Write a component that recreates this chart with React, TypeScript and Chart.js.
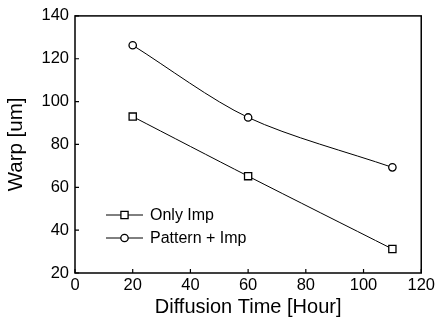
import React, { useEffect, useRef } from "react";
import { Chart, registerables } from "chart.js";

Chart.register(...registerables);

const hours = [20, 60, 110];
const onlyImp = [93, 65.2, 31.2];
const patternImp = [126.3, 92.6, 69.3];
const seriesNames = ["Only Imp", "Pattern + Imp"];
const xTicks = [0, 20, 40, 60, 80, 100, 120];
const yTicks = [20, 40, 60, 80, 100, 120, 140];
const xTitle = "Diffusion Time [Hour]";
const yTitle = "Warp [um]";

const FONT = "'Liberation Sans', Arial, sans-serif";

const framePlugin = {
  id: "frameTicks",
  afterDraw(chart: any) {
    const { ctx, chartArea, scales } = chart;
    const { left, right, top, bottom } = chartArea;
    ctx.save();
    ctx.strokeStyle = "#000";
    ctx.lineWidth = 1.5;
    ctx.strokeRect(left, top, right - left, bottom - top);
    ctx.lineWidth = 1.2;
    ctx.beginPath();
    xTicks.forEach((v) => {
      const px = scales.x.getPixelForValue(v);
      ctx.moveTo(px, bottom);
      ctx.lineTo(px, bottom - 4);
    });
    yTicks.forEach((v) => {
      const py = scales.y.getPixelForValue(v);
      ctx.moveTo(left, py);
      ctx.lineTo(left + 4, py);
    });
    ctx.stroke();

    // legend
    const lx = left + 31;
    const rows = [
      { y: bottom - 58, style: "rect", name: seriesNames[0] },
      { y: bottom - 35, style: "circle", name: seriesNames[1] },
    ];
    rows.forEach((r) => {
      ctx.lineWidth = 1;
      ctx.strokeStyle = "#000";
      ctx.beginPath();
      ctx.moveTo(lx, r.y);
      ctx.lineTo(lx + 37, r.y);
      ctx.stroke();
      ctx.fillStyle = "#fff";
      ctx.lineWidth = 1.3;
      const cx = lx + 18.5;
      if (r.style === "rect") {
        ctx.beginPath();
        ctx.rect(cx - 3.6, r.y - 3.6, 7.2, 7.2);
        ctx.fill();
        ctx.stroke();
      } else {
        ctx.beginPath();
        ctx.arc(cx, r.y, 3.7, 0, Math.PI * 2);
        ctx.fill();
        ctx.stroke();
      }
      ctx.fillStyle = "#000";
      ctx.font = `16px ${FONT}`;
      ctx.textAlign = "left";
      ctx.textBaseline = "middle";
      ctx.fillText(r.name, lx + 44, r.y + 1);
    });
    ctx.restore();
  },
};

export default function App() {
  const ref = useRef<HTMLCanvasElement | null>(null);
  useEffect(() => {
    document.body.style.margin = "0";
    const canvas = ref.current!;
    const chart = new Chart(canvas, {
      type: "scatter",
      data: {
        datasets: [
          {
            label: seriesNames[0],
            data: hours.map((h, i) => ({ x: h, y: onlyImp[i] })),
            showLine: true,
            borderColor: "#000",
            borderWidth: 1,
            tension: 0.3,
            pointStyle: "rect",
            pointRadius: 5.1,
            pointBorderWidth: 1.3,
            pointBackgroundColor: "#fff",
            pointBorderColor: "#000",
          },
          {
            label: seriesNames[1],
            data: hours.map((h, i) => ({ x: h, y: patternImp[i] })),
            showLine: true,
            borderColor: "#000",
            borderWidth: 1,
            tension: 0.3,
            pointStyle: "circle",
            pointRadius: 3.7,
            pointBorderWidth: 1.3,
            pointBackgroundColor: "#fff",
            pointBorderColor: "#000",
          },
        ],
      },
      options: {
        animation: false,
        responsive: false,
        maintainAspectRatio: false,
        layout: { padding: { top: 15, right: 16, left: 0, bottom: 0 } },
        plugins: { legend: { display: false }, tooltip: { enabled: false } },
        scales: {
          x: {
            type: "linear",
            min: 0,
            max: 120,
            afterBuildTicks: (s: any) => {
              s.ticks = xTicks.map((v) => ({ value: v }));
            },
            afterFit: (s: any) => {
              s.height = 51;
            },
            grid: { display: false, drawTicks: false },
            border: { display: false },
            ticks: {
              color: "#000",
              font: { family: FONT, size: 16.5 },
              padding: 3,
              maxRotation: 0,
            },
            title: {
              display: true,
              text: xTitle,
              color: "#000",
              font: { family: FONT, size: 20 },
              padding: { top: 0, bottom: 5 },
            },
          },
          y: {
            type: "linear",
            min: 20,
            max: 140,
            afterBuildTicks: (s: any) => {
              s.ticks = yTicks.map((v) => ({ value: v }));
            },
            afterFit: (s: any) => {
              s.width = 75;
            },
            grid: { display: false, drawTicks: false },
            border: { display: false },
            ticks: {
              color: "#000",
              font: { family: FONT, size: 16.5 },
              padding: 6,
            },
            title: {
              display: true,
              text: yTitle,
              color: "#000",
              font: { family: FONT, size: 20.5 },
              padding: { top: 4, bottom: 0 },
            },
          },
        },
      },
      plugins: [framePlugin],
    } as any);
    return () => chart.destroy();
  }, []);
  return (
    <div style={{ position: "fixed", left: 0, top: 0, width: 438, height: 324, background: "#fff" }}>
      <canvas ref={ref} width={438} height={324} style={{ width: 438, height: 324 }} />
    </div>
  );
}
